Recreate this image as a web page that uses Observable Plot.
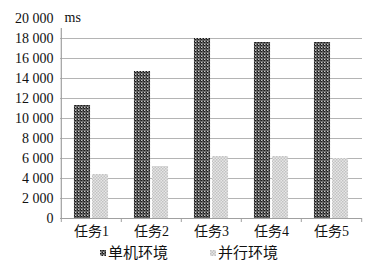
<!DOCTYPE html>
<html><head><meta charset="utf-8">
<script src="https://cdn.jsdelivr.net/npm/d3@7"></script>
<script src="https://cdn.jsdelivr.net/npm/@observablehq/plot@0.6"></script>
<style>
body{margin:0;background:#fff;font-family:"Liberation Serif","Noto Sans CJK SC",serif;}
#legend{display:flex;gap:42px;justify-content:flex-start;padding-left:100px;font-size:15px;line-height:16px;margin-top:3px;color:#111}
#legend span{display:inline-flex;align-items:center}
#legend svg{margin-right:2px}
svg text{font-family:"Liberation Serif","Noto Sans CJK SC",serif;}
</style></head><body>
<div id="chart"></div>
<div id="legend"></div>
<script>
const tasks = ["任务1","任务2","任务3","任务4","任务5"];
const standalone = [11300, 14700, 18000, 17600, 17600];
const parallel = [4400, 5200, 6200, 6200, 6000];
const seriesNames = ["单机环境","并行环境"];
const yTicks = [0,2000,4000,6000,8000,10000,12000,14000,16000,18000,20000];
const gridTicks = [2000,4000,6000,8000,10000,12000,14000,16000,18000];

const dataA = tasks.map((t,i)=>({task:t, value:standalone[i]}));
const dataB = tasks.map((t,i)=>({task:t, value:parallel[i]}));
const fmt = d => d3.format(",")(d).replace(/,/g, " ");
const fills = {"单机环境":"url(#patDark)","并行环境":"url(#patLight)"};
const half = 30.2; // half band width (302px / 5 / 2)

const plot = Plot.plot({
  width:375, height:242,
  marginLeft:60, marginRight:13, marginTop:18, marginBottom:24,
  style:{fontFamily:'"Liberation Serif","Noto Sans CJK SC",serif', fontSize:"14px", color:"#111"},
  x:{domain:tasks, padding:0, label:null},
  y:{domain:[0,20000], label:null},
  marks:[
    Plot.ruleY(gridTicks,{stroke:"#b4b4b4", strokeWidth:1.2}),
    Plot.barY(dataA,{x:"task", y:"value", fill:fills["单机环境"], insetLeft:21.95, insetRight:21.95, dx:-9}),
    Plot.barY(dataB,{x:"task", y:"value", fill:fills["并行环境"], insetLeft:21.95, insetRight:21.95, dx:9}),
    Plot.ruleY([0],{stroke:"#a0a0a0", strokeWidth:1.2}),
    Plot.ruleX(["任务1"],{y1:0, y2:19000, dx:-half, stroke:"#a0a0a0", strokeWidth:1.2}),
    Plot.ruleX(tasks,{y1:0, y2:-400, dx:-half, stroke:"#a0a0a0"}),
    Plot.ruleX(["任务5"],{y1:0, y2:-400, dx:half, stroke:"#a0a0a0"}),
    Plot.axisY(yTicks,{tickSize:0, tickPadding:7, tickFormat:fmt, fontSize:14}),
    Plot.axisX({tickSize:0, tickPadding:8, fontSize:14}),
    Plot.text(["ms"],{frameAnchor:"top-left", textAnchor:"start", lineAnchor:"middle", dx:4, dy:-1, fontSize:14})
  ]
});
document.getElementById("chart").appendChild(plot);

const ns = "http://www.w3.org/2000/svg";
const defs = document.createElementNS(ns,"defs");
defs.innerHTML = `
<pattern id="patDark" width="3" height="3" patternUnits="userSpaceOnUse">
  <rect width="3" height="3" fill="#c8c8c8"/>
  <rect x="0" y="0" width="1.5" height="1.5" fill="#1a1a1a"/>
  <rect x="1.5" y="1.5" width="1.5" height="1.5" fill="#1a1a1a"/>
  <rect x="1.5" y="0" width="1.5" height="1.5" fill="#444"/>
</pattern>
<pattern id="patLight" width="3" height="3" patternUnits="userSpaceOnUse">
  <rect width="3" height="3" fill="#e6e6e6"/>
  <rect x="0" y="0" width="1.5" height="1.5" fill="#c2c2c2"/>
  <rect x="1.5" y="1.5" width="1.5" height="1.5" fill="#c2c2c2"/>
</pattern>`;
plot.insertBefore(defs, plot.firstChild);

const legend = document.getElementById("legend");
seriesNames.forEach(s=>{
  const span = document.createElement("span");
  span.innerHTML = `<svg width="6" height="6"><rect width="6" height="6" fill="${fills[s].replace(")", "L)")}"/></svg>${s}`;
  legend.appendChild(span);
});
legend.querySelectorAll("svg").forEach(sv=>{
  const d2 = defs.cloneNode(true);
  d2.querySelectorAll("pattern").forEach(p=>p.id = p.id+"L");
  sv.insertBefore(d2, sv.firstChild);
});
</script>
</body></html>
